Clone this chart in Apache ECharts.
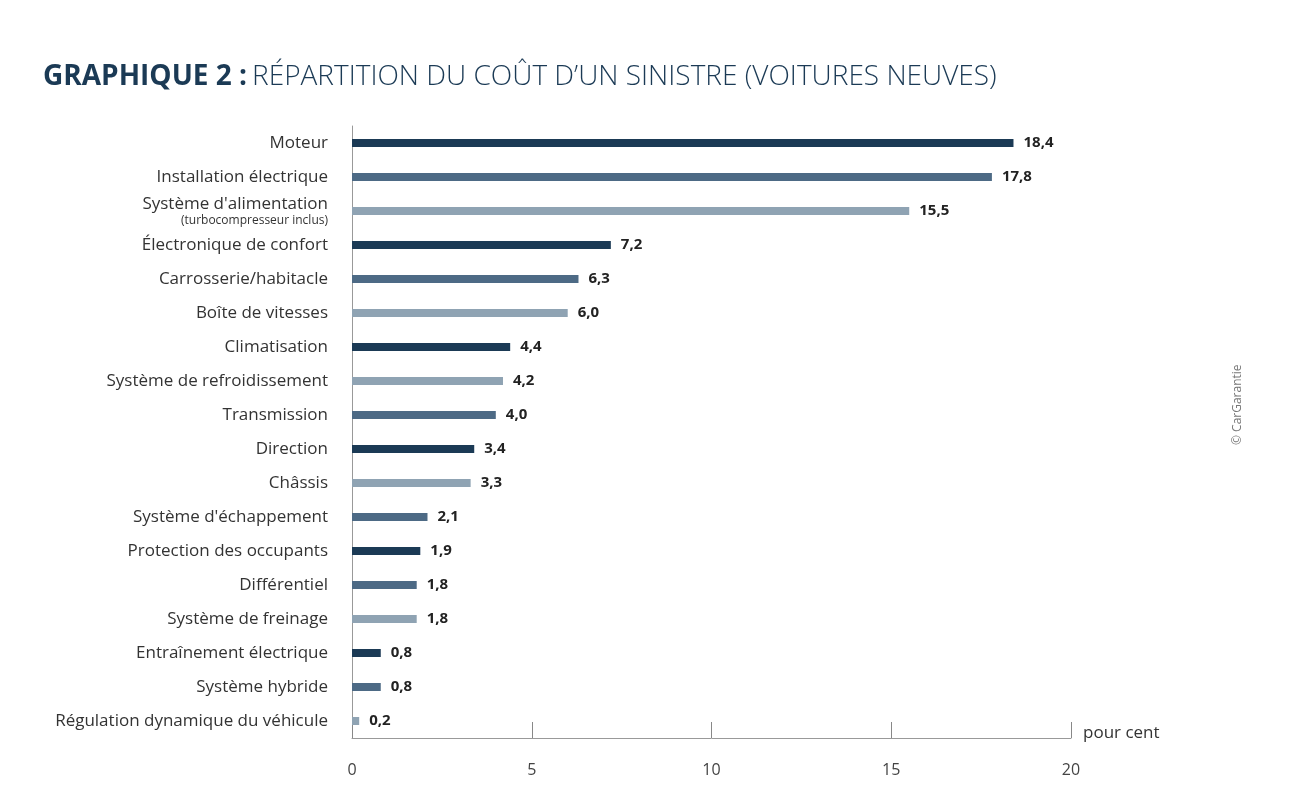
<!DOCTYPE html>
<html>
<head>
<meta charset="utf-8">
<script src="https://cdn.jsdelivr.net/npm/echarts@6/dist/echarts.min.js"></script>
<style>
  html, body { margin: 0; padding: 0; background: #fff; }
  #main { width: 1300px; height: 802px; }
</style>
</head>
<body>
<div id="main"></div>
<script>
// données (pour cent)
var categories = [
  'Moteur', 'Installation électrique', "Système d'alimentation|(turbocompresseur inclus)",
  'Électronique de confort', 'Carrosserie/habitacle', 'Boîte de vitesses',
  'Climatisation', 'Système de refroidissement', 'Transmission', 'Direction',
  'Châssis', "Système d'échappement", 'Protection des occupants', 'Différentiel',
  'Système de freinage', 'Entraînement électrique', 'Système hybride',
  'Régulation dynamique du véhicule'
];
var values = [18.4, 17.8, 15.5, 7.2, 6.3, 6.0, 4.4, 4.2, 4.0, 3.4, 3.3, 2.1, 1.9, 1.8, 1.8, 0.8, 0.8, 0.2];
// teinte de chaque barre : 0 foncé, 1 moyen, 2 clair
var shades = [0, 1, 2, 0, 1, 2, 0, 2, 1, 0, 2, 1, 0, 1, 2, 0, 1, 2];
var xTicks = [0, 5, 10, 15, 20];

var palette = ['#1b3a55', '#4d6a85', '#8fa3b3'];
var lightFont = '"Open Sans", "Noto Sans", sans-serif';

var myChart = echarts.init(document.getElementById('main'));

myChart.setOption({
    backgroundColor: '#fff',
    animation: false,
    title: {
        text: '{b|GRAPHIQUE 2 :} {r|RÉPARTITION DU COÛT D’UN SINISTRE (VOITURES NEUVES)}',
        left: 38,
        top: 58,
        textStyle: {
            rich: {
                b: { fontFamily: '"Open Sans", sans-serif', fontWeight: 'bold', fontSize: 28, color: '#1b3a55' },
                r: { fontFamily: lightFont, fontWeight: 300, fontSize: 28, color: '#1b3a55' }
            }
        }
    },
    graphic: [{
        type: 'text',
        x: 1232,
        y: 445,
        rotation: Math.PI / 2,
        style: {
            text: '© CarGarantie',
            fontFamily: lightFont,
            fontSize: 12,
            fill: '#777'
        }
    }],
    grid: { left: 352, right: 229, top: 126, bottom: 64, containLabel: false },
    xAxis: {
        type: 'value',
        min: 0,
        max: 20,
        interval: 5,
        name: 'pour cent',
        nameLocation: 'end',
        nameGap: 12,
        nameTextStyle: {
            fontFamily: lightFont, fontSize: 17, color: '#333',
            verticalAlign: 'bottom', padding: [0, 0, -4, 0]
        },
        axisLine: { show: true, lineStyle: { color: '#999', width: 1 } },
        axisTick: { show: true, inside: true, length: 16, lineStyle: { color: '#888' } },
        splitLine: { show: false },
        axisLabel: {
            margin: 24,
            fontFamily: lightFont,
            fontSize: 16,
            color: '#444',
            formatter: function (v) { return xTicks.indexOf(v) >= 0 ? String(v) : ''; }
        }
    },
    yAxis: {
        type: 'category',
        inverse: true,
        data: categories,
        axisLine: { show: true, lineStyle: { color: '#999', width: 1 } },
        axisTick: { show: false },
        axisLabel: {
            margin: 24,
            fontFamily: lightFont,
            fontSize: 17,
            color: '#333',
            formatter: function (v) {
                var parts = v.split('|');
                if (parts.length > 1) {
                    return '{m|' + parts[0] + '}\n{s|' + parts[1] + '}';
                }
                return v;
            },
            rich: {
                m: { fontFamily: lightFont, fontSize: 17, color: '#333', lineHeight: 19, align: 'right' },
                s: { fontFamily: lightFont, fontSize: 12, color: '#333', lineHeight: 14, align: 'right' }
            }
        }
    },
    series: [{
        type: 'bar',
        barWidth: 8,
        data: values.map(function (v, i) {
            return { value: v, itemStyle: { color: palette[shades[i]] } };
        }),
        label: {
            show: true,
            position: 'right',
            distance: 10,
            fontFamily: '"Open Sans", sans-serif',
            fontWeight: 'bold',
            fontSize: 15,
            color: '#222',
            formatter: function (p) { return p.value.toFixed(1).replace('.', ','); }
        }
    }]
});
</script>
</body>
</html>
